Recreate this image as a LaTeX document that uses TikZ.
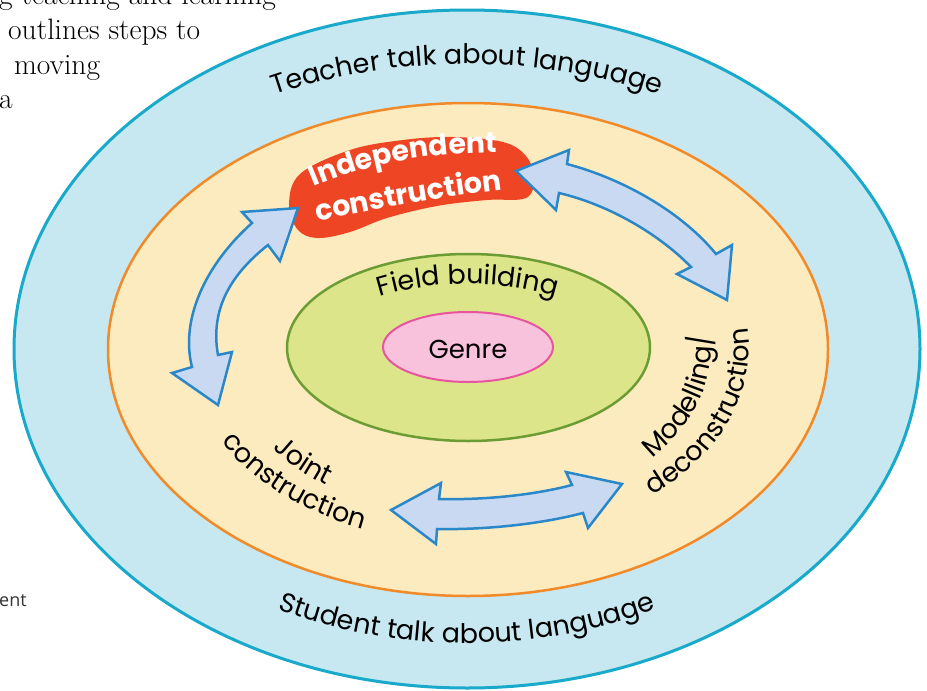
\documentclass[tikz,border=0pt]{standalone}
\usepackage{fontspec}
\usetikzlibrary{positioning, decorations.text}

\newfontfamily\labelfont{Poppins}
\newfontfamily\captionfont{Open Sans}

\definecolor{talkfill}{HTML}{C7E8F0}
\definecolor{talkline}{HTML}{19A9CB}
\definecolor{stagefill}{HTML}{FDEBC0}
\definecolor{stageline}{HTML}{F18A28}
\definecolor{fieldfill}{HTML}{DCE58A}
\definecolor{fieldline}{HTML}{6C9C34}
\definecolor{genrefill}{HTML}{F8C1DC}
\definecolor{genreline}{HTML}{E6559E}
\definecolor{arrowfill}{HTML}{C9D9F1}
\definecolor{arrowline}{HTML}{2A88C9}
\definecolor{blobred}{HTML}{EE4524}

\newcommand\ringtext{\labelfont\fontsize{27}{32}\selectfont}
\newcommand\blobtext{\labelfont\bfseries\fontsize{28.5}{33}\selectfont\color{white}}

\begin{document}
\begin{tikzpicture}[
    x=1pt, y=-1pt,
    ring/.style={line width=#1},
    dblarrow/.style={fill=arrowfill, draw=arrowline, line width=2.5pt, line join=miter},
    arclabel/.style={decorate, decoration={text along path, text align=center, text={#1}}},
    note/.style={anchor=base west, inner sep=0pt, font=\fontsize{29.5}{35}\selectfont}
]
\useasboundingbox (0,0) rectangle (927,691);
\clip (0,0) rectangle (927,691);
\fill[white] (0,0) rectangle (927,691);

% page text around the figure
\node[note] (line1) at (-1,4) {g teaching and learning};
\node[note] (line2) at (8,39) {outlines steps to};
\node[note] (line3) at (14,74) {moving};
\node[note] (line4) at (-1,108) {a};
\node[anchor=base west, inner sep=0pt, font=\captionfont\fontsize{18}{22}\selectfont, text=black!80] (tail) at (-1,606) {ent};

% rings
\draw[ring=3pt, fill=talkfill, draw=talkline] (467,349) ellipse [x radius=453, y radius=339];
\draw[ring=2.5pt, fill=stagefill, draw=stageline] (468,349.5) ellipse [x radius=360, y radius=246.5];
\draw[ring=2.5pt, fill=fieldfill, draw=fieldline] (468.5,347.5) ellipse [x radius=181.5, y radius=93.5];
\draw[ring=2pt, fill=genrefill, draw=genreline] (468,347) ellipse [x radius=85, y radius=35];
\node[font=\labelfont\fontsize{26}{30}\selectfont] (genre) at (468,349) {Genre};

% ring labels
\path[arclabel={|\ringtext|Teacher talk about language}]
    (467,349) ++(215:425 and 285) arc[start angle=215, end angle=325, x radius=425, y radius=285];
\path[arclabel={|\ringtext|Student talk about language}]
    (467,349) ++(145:406 and 294) arc[start angle=145, end angle=35, x radius=406, y radius=294];
\path[arclabel={|\ringtext|Field building}]
    (468,349) ++(200:150 and 65) arc[start angle=200, end angle=340, x radius=150, y radius=65];

% stage labels
\path[arclabel={|\ringtext|Joint}]
    (468,349) ++(167:243 and 168) arc[start angle=167, end angle=107, x radius=243, y radius=168];
\path[arclabel={|\ringtext|construction}]
    (468,349) ++(163:281 and 194) arc[start angle=163, end angle=103, x radius=281, y radius=194];
\path[arclabel={|\ringtext|Modelling/}]
    (468,349) ++(47:243 and 168) arc[start angle=47, end angle=-13, x radius=243, y radius=168];
\path[arclabel={|\ringtext|deconstruction}]
    (468,349) ++(51:281 and 194) arc[start angle=51, end angle=-9, x radius=281, y radius=194];

% independent construction
\fill[blobred] plot[smooth cycle, tension=0.6] coordinates {(289,205) (300,174) (350,150) (403,140)
    (453,137) (503,142) (526,156) (534,178) (526,198) (487,200) (437,206) (387,218) (350,232)
    (318,238) (298,230)};
\path[arclabel={|\blobtext|Independent}] (300,193) .. controls (360,165) and (430,150) .. (512,153);
\path[arclabel={|\blobtext|construction}] (305,224) .. controls (370,210) and (440,197) .. (515,188);

% double arrows between the stages
\draw[dblarrow] (298,208) -- (280,261) -- (268,245)
    .. controls (230,275) and (210,310) .. (218,355)
    -- (232,352) -- (218,405) -- (172,373) -- (192,367)
    .. controls (180,320) and (205,265) .. (252,223)
    -- (242,212) -- cycle;
\draw[dblarrow] (516,171) -- (569,150) -- (567,164)
    .. controls (620,178) and (680,210) .. (716,254)
    -- (732,245) -- (727,300) -- (677,274) -- (691,267)
    .. controls (660,235) and (610,205) .. (559,193)
    -- (556,210) -- cycle;
\draw[dblarrow] (391,510) -- (441,483) -- (439,499)
    .. controls (480,500) and (530,496) .. (572,485)
    -- (566,472) -- (622,484) -- (588,528) -- (583,513)
    .. controls (545,523) and (490,530) .. (437,529)
    -- (436,544) -- cycle;
\end{tikzpicture}
\end{document}
